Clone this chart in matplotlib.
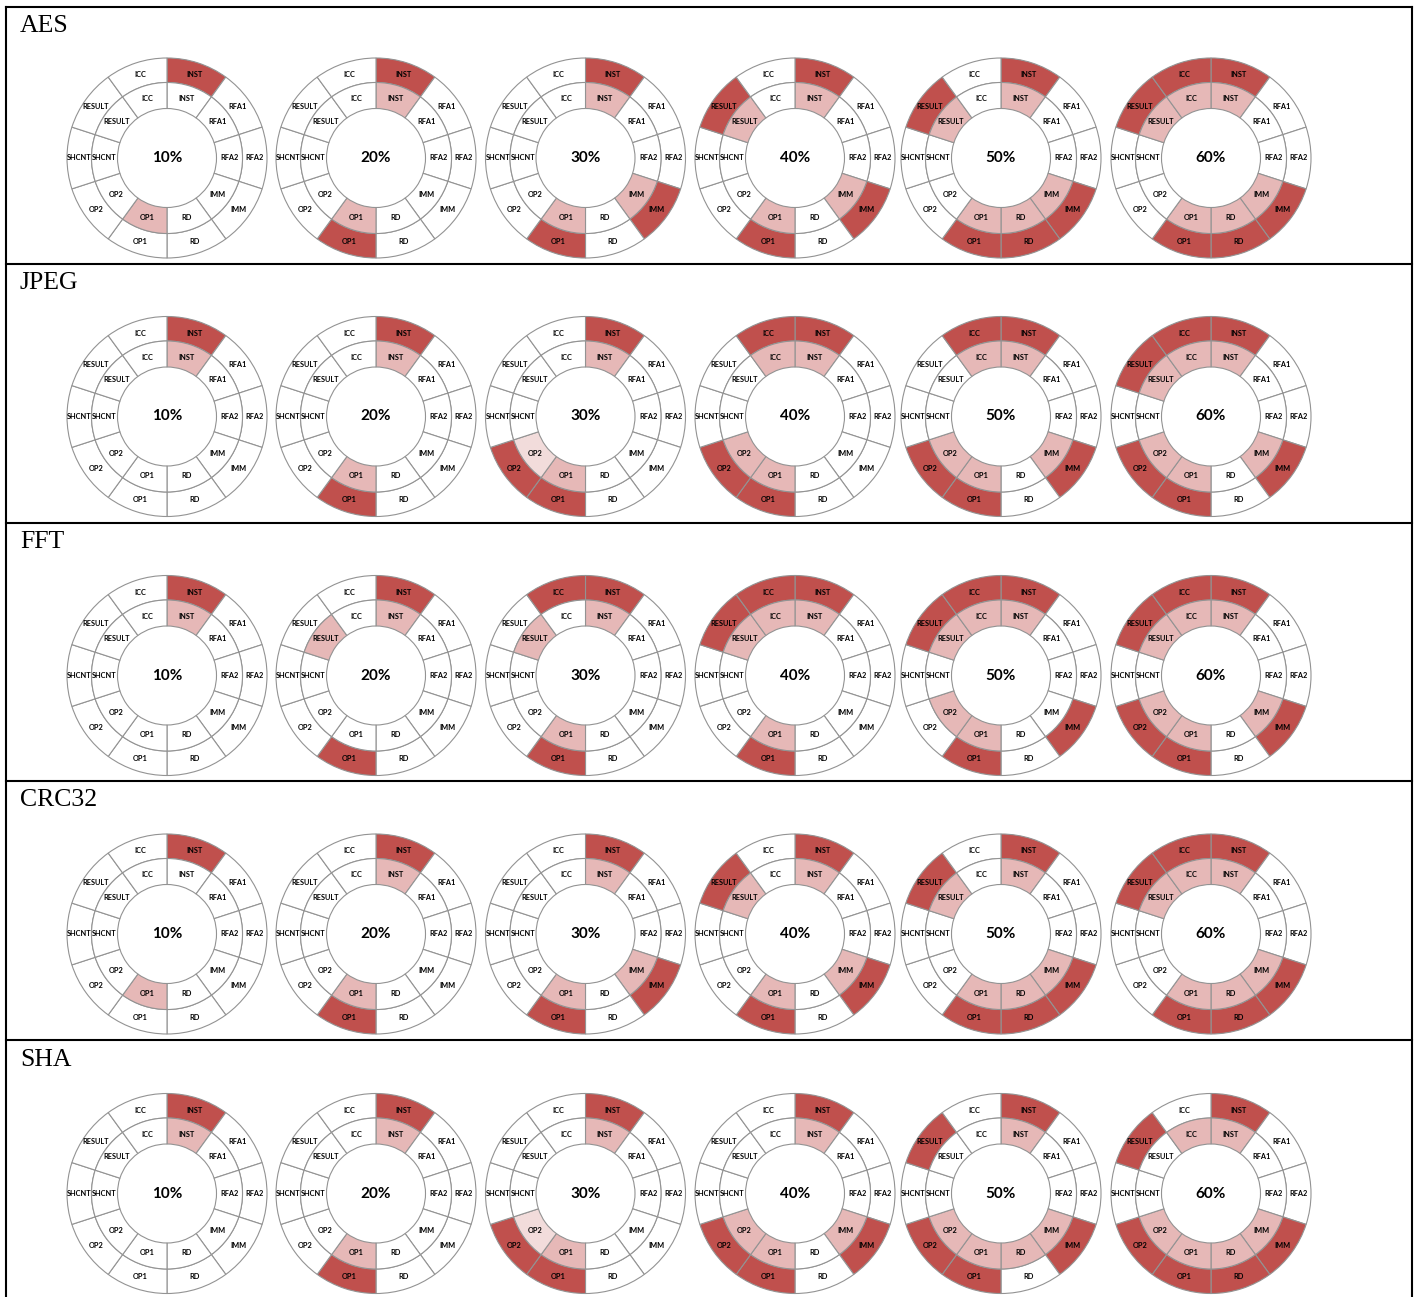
import matplotlib
matplotlib.use("Agg")
import matplotlib.pyplot as plt
from matplotlib.lines import Line2D

W, H = 1421, 1297

benchmarks = ["AES", "JPEG", "FFT", "CRC32", "SHA"]
rates = ["10%", "20%", "30%", "40%", "50%", "60%"]
# ring fields, clockwise starting at 12 o'clock
fields = ["INST", "RFA1", "RFA2", "IMM", "RD", "OP1", "OP2", "SHCNT", "RESULT", "ICC"]

# outer ring: fields marked dark red, one list per rate
aes_outer = [["INST"], ["INST", "OP1"], ["INST", "IMM", "OP1"],
             ["INST", "RESULT", "IMM", "OP1"], ["INST", "RESULT", "IMM", "OP1", "RD"],
             ["ICC", "INST", "RESULT", "IMM", "OP1", "RD"]]
jpeg_outer = [["INST"], ["INST", "OP1"], ["INST", "OP2", "OP1"],
              ["ICC", "INST", "OP2", "OP1"], ["ICC", "INST", "IMM", "OP2", "OP1"],
              ["ICC", "INST", "RESULT", "IMM", "OP2", "OP1"]]
fft_outer = [["INST"], ["INST", "OP1"], ["ICC", "INST", "OP1"],
             ["ICC", "INST", "RESULT", "OP1"], ["ICC", "INST", "RESULT", "IMM", "OP1"],
             ["ICC", "INST", "RESULT", "IMM", "OP1", "OP2"]]
crc_outer = [["INST"], ["INST", "OP1"], ["INST", "IMM", "OP1"],
             ["INST", "RESULT", "IMM", "OP1"], ["INST", "RESULT", "IMM", "OP1", "RD"],
             ["ICC", "INST", "RESULT", "IMM", "OP1", "RD"]]
sha_outer = [["INST"], ["INST", "OP1"], ["INST", "OP2", "OP1"],
             ["INST", "OP2", "OP1", "IMM"], ["INST", "RESULT", "OP2", "OP1", "IMM"],
             ["INST", "RESULT", "OP2", "OP1", "RD", "IMM"]]

# inner ring: fields marked light red
aes_inner = [["OP1"], ["INST", "OP1"], ["INST", "IMM", "OP1"],
             ["INST", "RESULT", "IMM", "OP1"], ["INST", "RESULT", "IMM", "OP1", "RD"],
             ["ICC", "INST", "RESULT", "IMM", "OP1", "RD"]]
jpeg_inner = [["INST"], ["INST", "OP1"], ["INST", "OP1"],
              ["ICC", "INST", "OP2", "OP1"], ["ICC", "INST", "IMM", "OP2", "OP1"],
              ["ICC", "INST", "RESULT", "IMM", "OP2", "OP1"]]
fft_inner = [["INST"], ["INST", "RESULT"], ["INST", "RESULT", "OP1"],
             ["ICC", "INST", "RESULT", "OP1"], ["ICC", "INST", "RESULT", "OP2", "OP1"],
             ["ICC", "INST", "RESULT", "IMM", "OP2", "OP1"]]
crc_inner = [["OP1"], ["INST", "OP1"], ["INST", "IMM", "OP1"],
             ["INST", "RESULT", "IMM", "OP1"], ["INST", "RESULT", "IMM", "OP1", "RD"],
             ["ICC", "INST", "RESULT", "IMM", "OP1", "RD"]]
sha_inner = [["INST"], ["INST", "OP1"], ["INST", "OP1"],
             ["INST", "OP2", "OP1", "IMM"], ["INST", "OP2", "OP1", "RD", "IMM"],
             ["ICC", "INST", "OP2", "OP1", "RD", "IMM"]]

# inner ring cells in a paler shade (benchmark, rate, field)
faint = [("JPEG", "30%", "OP2"), ("SHA", "30%", "OP2")]

outer_sets = [aes_outer, jpeg_outer, fft_outer, crc_outer, sha_outer]
inner_sets = [aes_inner, jpeg_inner, fft_inner, crc_inner, sha_inner]

DARK = "#C0504D"
LIGHT = "#E6B8B7"
PALE = "#F2DCDB"
EDGE = "#939393"

fig = plt.figure(figsize=(W / 100, H / 100), dpi=100)

centers_x = [167, 376, 585.5, 795, 1001, 1211]
centers_y = [158, 416.5, 675.5, 934, 1193.5]
row_tops = [6.5, 264, 523, 781, 1040]
box = 250  # px, pie limits +-1.25 -> radius 1 = 100 px

lab = dict(ha="center", va="center", fontsize=5.3, fontweight="bold", family="Lato")

for r, bench in enumerate(benchmarks):
    fig.text(20 / W, 1 - (row_tops[r] + 25.5) / H, bench, fontsize=18.5,
             family="Liberation Serif", va="baseline", ha="left")
    for c, rate in enumerate(rates):
        cx, cy = centers_x[c], centers_y[r]
        ax = fig.add_axes([(cx - box / 2) / W, 1 - (cy + box / 2) / H, box / W, box / H])
        outer_cols = [DARK if f in outer_sets[r][c] else "white" for f in fields]
        inner_cols = []
        for f in fields:
            if (bench, rate, f) in faint:
                inner_cols.append(PALE)
            elif f in inner_sets[r][c]:
                inner_cols.append(LIGHT)
            else:
                inner_cols.append("white")
        ax.pie([1] * len(fields), radius=1.0, colors=outer_cols, labels=fields,
               labeldistance=0.8775, startangle=90, counterclock=False,
               wedgeprops=dict(width=0.245, edgecolor=EDGE, linewidth=0.8),
               textprops=lab)
        ax.pie([1] * len(fields), radius=0.755, colors=inner_cols, labels=fields,
               labeldistance=0.625 / 0.755, startangle=90, counterclock=False,
               wedgeprops=dict(width=0.26, edgecolor=EDGE, linewidth=0.8),
               textprops=lab)
        ax.text(0, 0, rate, ha="center", va="center", fontsize=11,
                fontweight="bold", family="Lato")
        ax.set_xlim(-1.25, 1.25)
        ax.set_ylim(-1.25, 1.25)
        ax.set_aspect("equal")
        ax.axis("off")

# table frame
def px_line(x0, y0, x1, y1):
    fig.add_artist(Line2D([x0 / W, x1 / W], [1 - y0 / H, 1 - y1 / H],
                          color="black", lw=1.5, transform=fig.transFigure))

px_line(6, 6.5, 1412, 6.5)
for y in row_tops[1:]:
    px_line(6, y, 1412, y)
px_line(6, 6.5, 6, H)
px_line(1412, 6.5, 1412, H)

fig.savefig("out.png", dpi=100)
